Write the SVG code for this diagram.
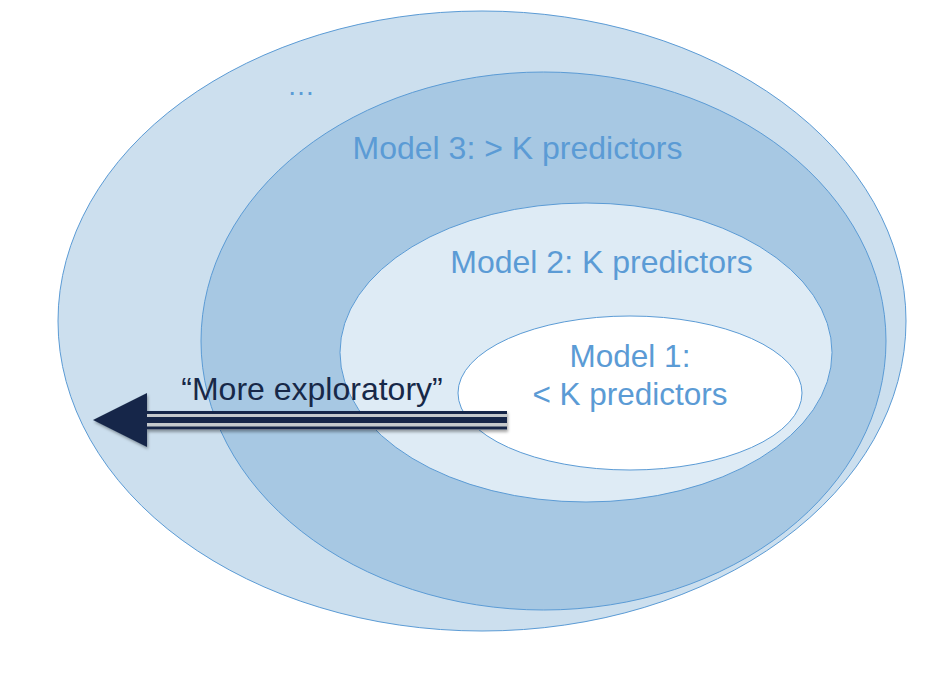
<svg xmlns="http://www.w3.org/2000/svg" width="944" height="698" viewBox="0 0 944 698">
<style>
.ell{stroke:#5B9BD5;stroke-width:1}
.lbl{font-family:"Liberation Sans",Arial,sans-serif;fill:#5B9BD5;text-anchor:middle}
.nav{fill:#172848}
</style>
<defs>
<filter id="sh" x="-5%" y="-30%" width="110%" height="180%">
<feDropShadow dx="1" dy="2" stdDeviation="1.5" flood-color="#000" flood-opacity="0.35"/>
</filter>
</defs>
<rect width="944" height="698" fill="#ffffff"/>
<g id="outer">
<ellipse class="ell" cx="482" cy="321" rx="424" ry="310" fill="#CCDFEE"/>
<text class="lbl" x="301" y="95" font-size="28">…</text>
</g>
<g id="model3">
<ellipse class="ell" cx="543.5" cy="341" rx="342.5" ry="269" fill="#A7C8E3"/>
<text class="lbl" x="517.5" y="159" font-size="32">Model 3: &gt; K predictors</text>
</g>
<g id="model2">
<ellipse class="ell" cx="586" cy="352.5" rx="246" ry="149.5" fill="#DEEBF5"/>
<text class="lbl" x="601.5" y="273" font-size="32">Model 2: K predictors</text>
</g>
<g id="model1">
<ellipse class="ell" cx="630" cy="393" rx="172" ry="77" fill="#FFFFFF"/>
<text class="lbl" x="630" y="367" font-size="31.5">Model 1:</text>
<text class="lbl" x="630" y="405" font-size="31.5">&lt; K predictors</text>
</g>
<g id="connectors">
<g id="arrow" filter="url(#sh)">
<rect x="146" y="411" width="361" height="19" fill="#C5C9CC"/>
<rect class="nav" x="146" y="411" width="361" height="3"/>
<rect class="nav" x="146" y="417" width="361" height="6"/>
<rect class="nav" x="146" y="426.5" width="361" height="3"/>
<polygon class="nav" points="93,420 147,393 147,447"/>
</g>
<text x="312" y="400" font-size="32" font-family="Liberation Sans,Arial,sans-serif" fill="#172848" text-anchor="middle">“More exploratory”</text>
</g>
</svg>
